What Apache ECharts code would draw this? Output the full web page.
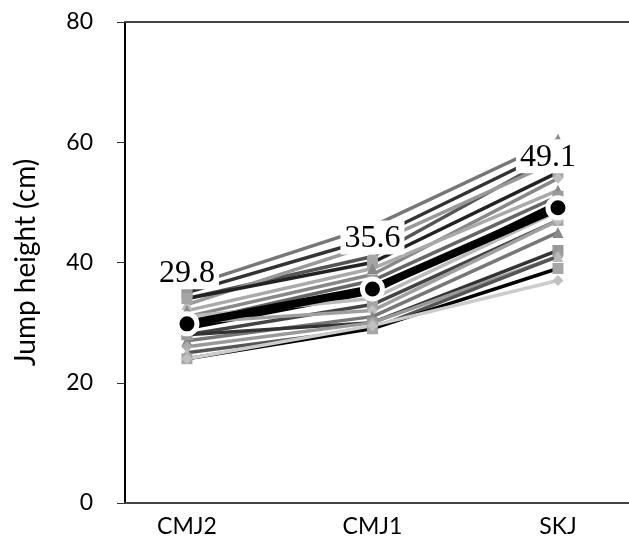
<!DOCTYPE html>
<html><head><meta charset="utf-8">
<title>Jump height</title>
<script src="https://cdn.jsdelivr.net/npm/echarts@6/dist/echarts.min.js"></script>
<style>
  html, body { margin:0; padding:0; background:#fff; }
  #chart { width:629px; height:539px; }
</style>
</head>
<body>
<div id="chart"></div>
<script type="text/javascript">
var categories = ["CMJ2", "CMJ1", "SKJ"];
var yTicks = [0, 20, 40, 60, 80];

// individual subjects, one array per test
var cmj2 = [36, 35, 34, 33, 34, 31, 32, 30, 29, 31, 28, 30, 27, 28, 26, 25, 24, 24];
var cmj1 = [46, 44, 41, 43, 40, 38, 39, 37, 35, 34, 33, 32, 31, 30, 30, 29, 29, 29.5];
var skj  = [60.5, 59, 58, 57, 55, 54, 52, 51, 50, 48.5, 47, 47, 45, 42, 41, 41, 39, 37];
var meanValues = [29.8, 35.6, 49.1];
var labelShiftX = [0, 0, -10];

var greys = ["#777", "#333", "#555", "#999", "#222", "#888", "#aaa", "#666", "#000",
             "#bbb", "#444", "#a0a0a0", "#777", "#333", "#999", "#555", "#000", "#ccc"];
var markerGreys = ["#888", "#999", "#aaa", "#bbb", "#a5a5a5", "#c0c0c0"];
var shapes = ["triangle", "rect", "diamond", "triangle", "rect", "diamond"];

var series = [];
for (var i = 0; i < cmj2.length; i++) {
  series.push({
    type: "line",
    data: [[0, cmj2[i]], [1, cmj1[i]], [2, skj[i]]],
    symbol: shapes[i % shapes.length],
    symbolSize: 11,
    lineStyle: { color: greys[i], width: 3.5 },
    itemStyle: { color: markerGreys[i % markerGreys.length] },
    emphasis: { disabled: true },
    z: 2
  });
}

series.push({
  type: "line",
  data: meanValues.map(function(v, k){
    return { value: [k, v], label: { offset: [labelShiftX[k], 0] } };
  }),
  symbol: "circle",
  symbolSize: 20,
  lineStyle: { color: "#000", width: 8 },
  itemStyle: { color: "#000", borderColor: "#fff", borderWidth: 5 },
  label: {
    show: true,
    position: "top",
    distance: 22,
    formatter: function(p){ return p.value[1].toFixed(1); },
    fontFamily: "Liberation Serif",
    fontSize: 32,
    color: "#000",
    backgroundColor: "#fff",
    padding: [2, 4, 0, 4]
  },
  emphasis: { disabled: true },
  z: 10
});

var chart = echarts.init(document.getElementById("chart"));
chart.setOption({
  animation: false,
  grid: { left: 125, right: 0, top: 22, bottom: 36 },
  xAxis: [{
    type: "value",
    min: -0.334,
    max: 2.383,
    position: "bottom",
    axisLine: { show: true, onZero: false, lineStyle: { color: "#444", width: 2 } },
    axisTick: { show: false },
    splitLine: { show: false },
    axisLabel: {
      customValues: [0, 1, 2],
      formatter: function(v){ return categories[Math.round(v)]; },
      fontFamily: "Lato", fontSize: 23, color: "#000", margin: 12
    }
  }, {
    type: "value",
    min: -0.334,
    max: 2.383,
    position: "top",
    axisLine: { show: true, onZero: false, lineStyle: { color: "#444", width: 2 } },
    axisTick: { show: false },
    axisLabel: { show: false },
    splitLine: { show: false }
  }],
  yAxis: {
    type: "value",
    min: yTicks[0],
    max: yTicks[yTicks.length - 1],
    interval: 20,
    name: "Jump height (cm)",
    nameLocation: "middle",
    nameGap: 85,
    nameTextStyle: { fontFamily: "Lato", fontSize: 28, color: "#000" },
    axisLine: { show: true, onZero: false, lineStyle: { color: "#000", width: 2 } },
    axisTick: { show: true, length: 8, lineStyle: { color: "#333" } },
    splitLine: { show: false },
    axisLabel: { fontFamily: "Lato", fontSize: 23, color: "#000", margin: 32 }
  },
  series: series
});
</script>
</body></html>
